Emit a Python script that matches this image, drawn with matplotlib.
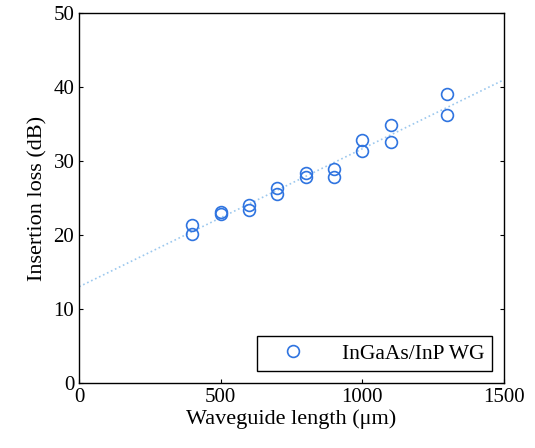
import matplotlib
matplotlib.use('Agg')
import matplotlib.pyplot as plt
import numpy as np

plt.rcParams['font.family'] = ['Liberation Serif', 'DejaVu Serif']

# waveguide length (um) and measured insertion loss (dB), two devices per length
length_um = [400, 400, 500, 500, 600, 600, 700, 700, 800, 800,
             900, 900, 1000, 1000, 1100, 1100, 1300, 1300]
loss_db = [21.3, 20.1, 23.1, 22.9, 24.1, 23.4, 26.3, 25.6, 28.4, 27.8,
           28.9, 27.8, 32.8, 31.3, 34.8, 32.6, 39.1, 36.2]

x = np.array(length_um, dtype=float)
y = np.array(loss_db)
slope, intercept = np.polyfit(x, y, 1)
xfit = np.array([0, 1500])

fig = plt.figure(figsize=(5.35, 4.48), dpi=100)
ax = fig.add_axes([0.148, 0.145, 0.794, 0.826])

ax.plot(xfit, slope * xfit + intercept, ':', color='#9cc8ee', lw=1.2)
ax.plot(x, y, 'o', mfc='none', mec='#2f74e0', mew=1.2, ms=8.5, ls='none',
        label='InGaAs/InP WG')

ax.set_xlim(0, 1500)
ax.set_ylim(0, 50)
ax.set_xticks([0, 500, 1000, 1500])
ax.set_yticks([0, 10, 20, 30, 40, 50])
ax.tick_params(direction='in', labelsize=15, length=3, top=False, right=True)
ax.set_xlabel('Waveguide length (\u03bcm)', fontsize=16, labelpad=2)
ax.set_ylabel('Insertion loss (dB)', fontsize=16, labelpad=4)
for s in ax.spines.values():
    s.set_linewidth(1.0)

leg = ax.legend(loc='lower right', fontsize=15.5, fancybox=False, edgecolor='black',
                framealpha=1, borderaxespad=0.55, handlelength=2.6,
                handletextpad=1.0, borderpad=0.35)
leg.get_frame().set_linewidth(1.0)

fig.savefig('out.png', dpi=100)
